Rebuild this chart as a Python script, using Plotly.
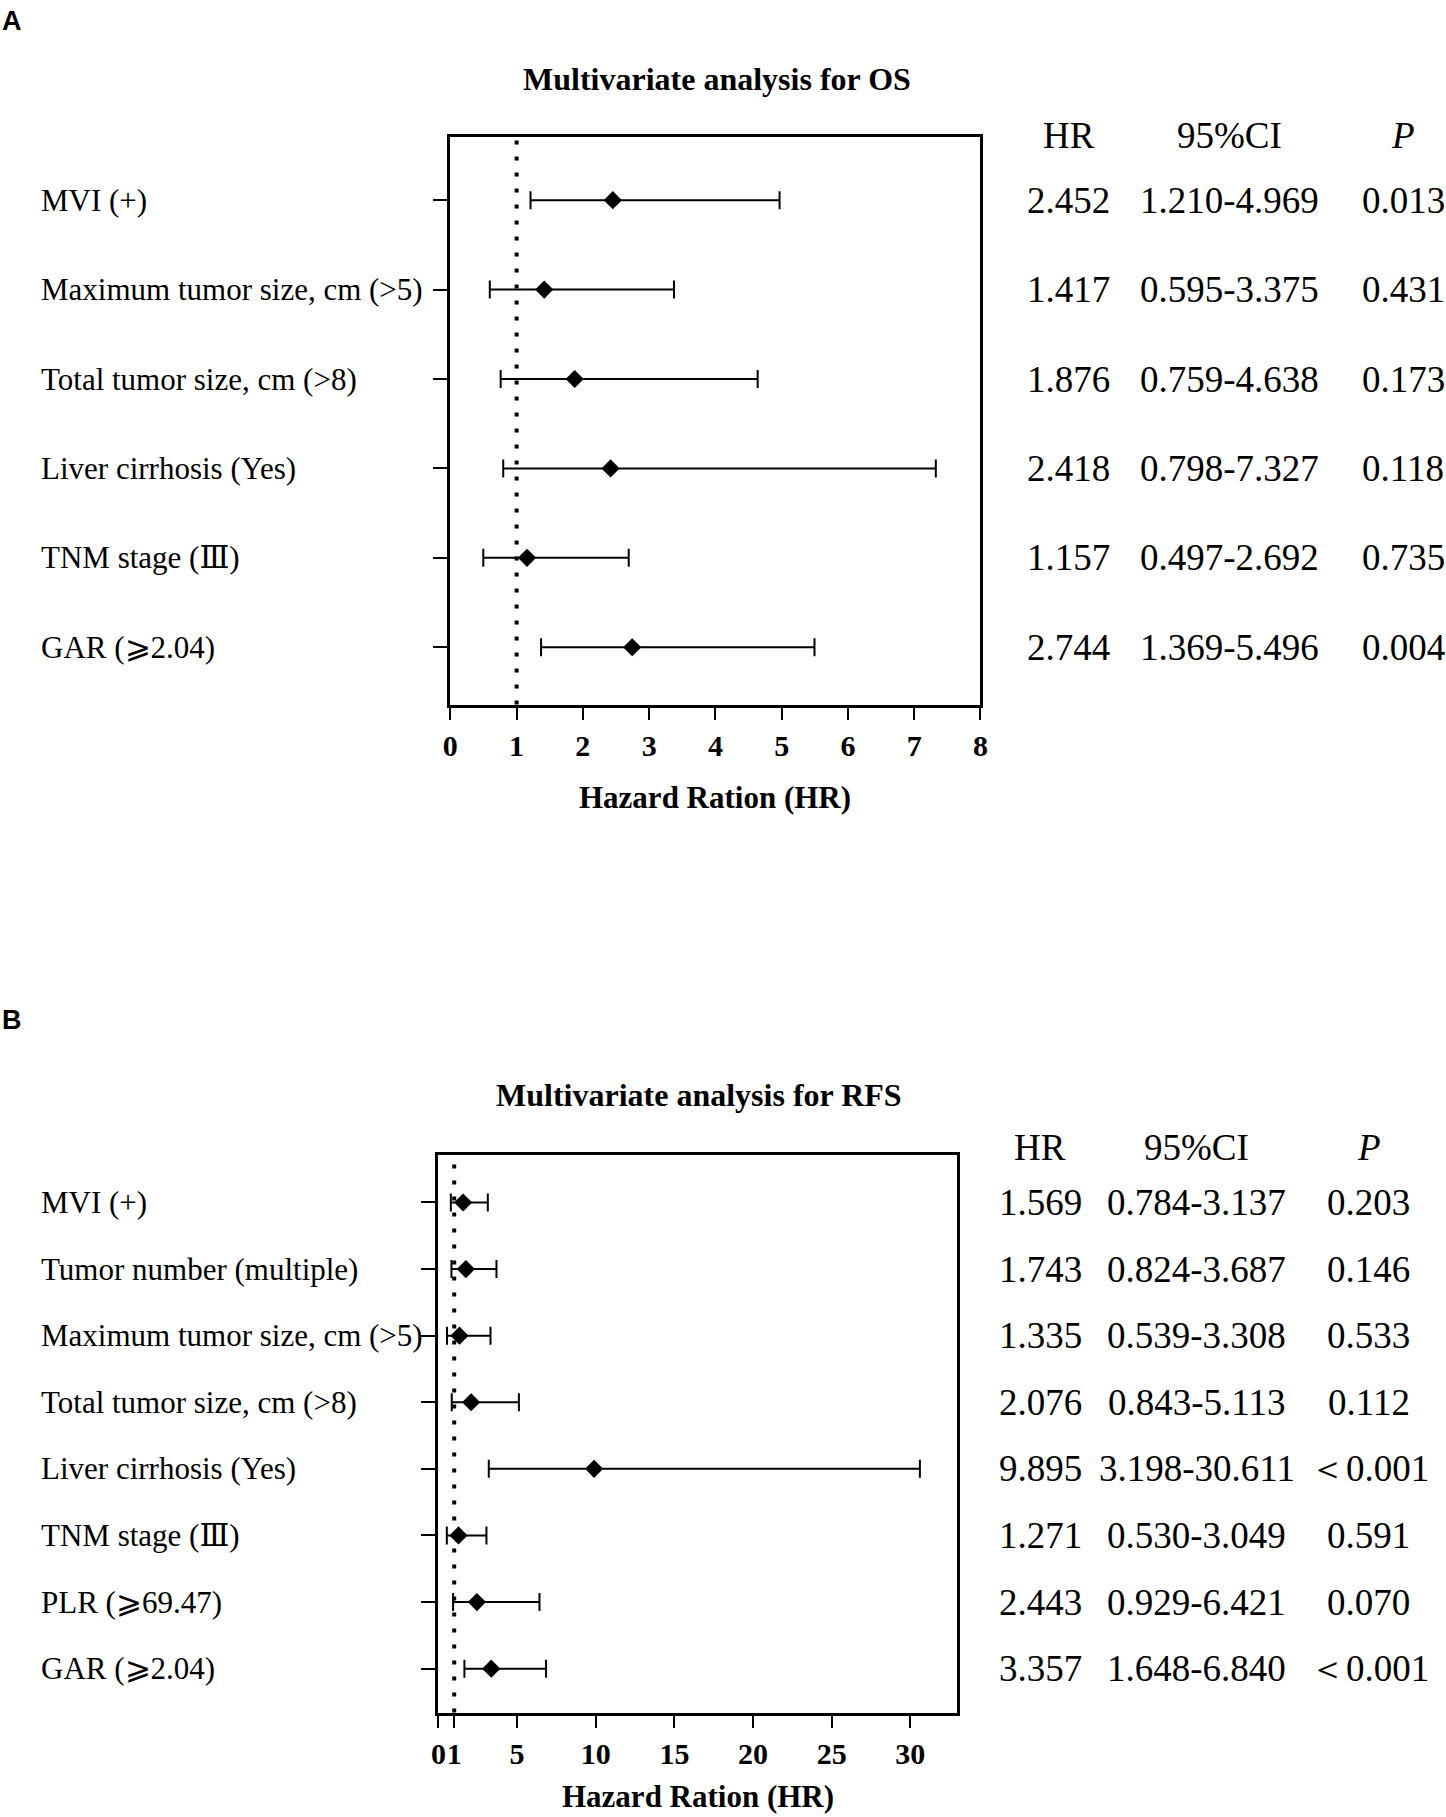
import plotly.graph_objects as go

W, H = 1446, 1817

# ---------------- data ----------------
os_labels = ["MVI (+)", "Maximum tumor size, cm (>5)", "Total tumor size, cm (>8)",
             "Liver cirrhosis (Yes)", "TNM stage (Ⅲ)", "GAR (⩾2.04)"]
os_hr = [2.452, 1.417, 1.876, 2.418, 1.157, 2.744]
os_lo = [1.210, 0.595, 0.759, 0.798, 0.497, 1.369]
os_hi = [4.969, 3.375, 4.638, 7.327, 2.692, 5.496]
os_p = ["0.013", "0.431", "0.173", "0.118", "0.735", "0.004"]
os_ticks = [0, 1, 2, 3, 4, 5, 6, 7, 8]

rfs_labels = ["MVI (+)", "Tumor number (multiple)", "Maximum tumor size, cm (>5)",
              "Total tumor size, cm (>8)", "Liver cirrhosis (Yes)", "TNM stage (Ⅲ)",
              "PLR (⩾69.47)", "GAR (⩾2.04)"]
rfs_hr = [1.569, 1.743, 1.335, 2.076, 9.895, 1.271, 2.443, 3.357]
rfs_lo = [0.784, 0.824, 0.539, 0.843, 3.198, 0.530, 0.929, 1.648]
rfs_hi = [3.137, 3.687, 3.308, 5.113, 30.611, 3.049, 6.421, 6.840]
rfs_p = ["0.203", "0.146", "0.533", "0.112", "＜0.001", "0.591", "0.070", "＜0.001"]
rfs_ticks = [0, 1, 5, 10, 15, 20, 25, 30]

SERIF = "Liberation Serif, DejaVu Serif"


def px(x):
    return x / W


def py(y):
    return 1 - y / H


fig = go.Figure()
annotations = []
shapes = []


def panel(xa, ya, labels, hr, lo, hi, pvals, ticks, xrange_, yrange_, box, header_y, cols,
          title_xy, letter_xy, letter, title):
    n = len(labels)
    rows = list(range(n))
    fig.add_trace(go.Scatter(
        x=hr, y=rows, mode="markers",
        marker=dict(symbol="diamond", size=14, color="black"),
        error_x=dict(type="data", symmetric=False,
                     array=[h - m for h, m in zip(hi, hr)],
                     arrayminus=[m - l for m, l in zip(hr, lo)],
                     color="black", thickness=2, width=9),
        xaxis=xa, yaxis=ya, showlegend=False, hoverinfo="skip"))
    shapes.append(dict(type="line", xref=xa, yref=ya + " domain", x0=1, x1=1, y0=0, y1=1,
                       line=dict(color="black", width=4, dash="4px,12px")))
    for i, lab in enumerate(labels):
        annotations.append(dict(text=lab, x=px(31), y=i, xref="paper", yref=ya,
                                xanchor="left", yanchor="middle", showarrow=False,
                                font=dict(family=SERIF, size=31, color="black")))
        vals = [f"{hr[i]:.3f}", f"{lo[i]:.3f}-{hi[i]:.3f}", pvals[i]]
        for c, v in zip(cols, vals):
            annotations.append(dict(text=v, x=px(c), y=i, xref="paper", yref=ya,
                                    xanchor="center", yanchor="middle", showarrow=False,
                                    font=dict(family=SERIF, size=37, color="black")))
    for c, v in zip(cols, ["HR", "95%CI", "<i>P</i>"]):
        annotations.append(dict(text=v, x=px(c), y=py(header_y), xref="paper", yref="paper",
                                xanchor="center", yanchor="middle", showarrow=False,
                                font=dict(family=SERIF, size=37, color="black")))
    annotations.append(dict(text=f"<b>{title}</b>", x=px(title_xy[0]), y=py(title_xy[1]),
                            xref="paper", yref="paper", xanchor="center", yanchor="middle",
                            showarrow=False, font=dict(family=SERIF, size=32, color="black")))
    annotations.append(dict(text=f"<b>{letter}</b>", x=px(letter_xy[0]), y=py(letter_xy[1]),
                            xref="paper", yref="paper", xanchor="left", yanchor="middle",
                            showarrow=False,
                            font=dict(family="Liberation Sans", size=27, color="black")))
    annotations.append(dict(text="<b>Hazard Ration (HR)</b>", x=(px(box[0]) + px(box[1])) / 2,
                            y=py(box[4]), xref="paper", yref="paper", xanchor="center",
                            yanchor="middle", showarrow=False,
                            font=dict(family=SERIF, size=31, color="black")))
    l, r, t, b = box[0], box[1], box[2], box[3]
    xaxis = dict(domain=[px(l), px(r)], range=xrange_, tickvals=ticks,
                 ticktext=[f"<b>{v}</b>" for v in ticks], ticks="outside", ticklen=13,
                 tickwidth=2, tickcolor="black", showline=True, linewidth=2.5,
                 linecolor="black", mirror=True, showgrid=False, zeroline=False, tickangle=0,
                 tickfont=dict(family=SERIF, size=30, color="black"), anchor=ya)
    yaxis = dict(domain=[py(b), py(t)], range=yrange_, tickvals=rows, ticktext=[""] * n,
                 ticks="outside", ticklen=15, tickwidth=2, tickcolor="black", showline=True,
                 linewidth=2.5, linecolor="black", mirror=True, showgrid=False,
                 zeroline=False, anchor=xa)
    return xaxis, yaxis


ax1, ay1 = panel("x", "y", os_labels, os_hr, os_lo, os_hi, os_p, os_ticks, [0, 8],
                 [5.64, -0.71], (447, 982.6, 136.7, 704.5, 797.2), 135.6, (1072, 1234, 1410),
                 (716, 78.8), (-8, 21), "A", "Multivariate analysis for OS")
ax2, ay2 = panel("x2", "y2", rfs_labels, rfs_hr, rfs_lo, rfs_hi, rfs_p, rfs_ticks, [0, 33],
                 [7.66, -0.71], (435, 959.4, 1155.2, 1712.6, 1796), 1147,
                 (1043, 1201, 1375), (698.7, 1095), (-8, 1020), "B",
                 "Multivariate analysis for RFS")

fig.update_layout(
    width=W, height=H, margin=dict(l=0, r=0, t=0, b=0),
    plot_bgcolor="white", paper_bgcolor="white",
    xaxis=ax1, yaxis=ay1, xaxis2=ax2, yaxis2=ay2,
    annotations=annotations, shapes=shapes,
)

fig.write_html("out.html", config={"displayModeBar": False},
               post_script="document.body.style.margin='0';")
